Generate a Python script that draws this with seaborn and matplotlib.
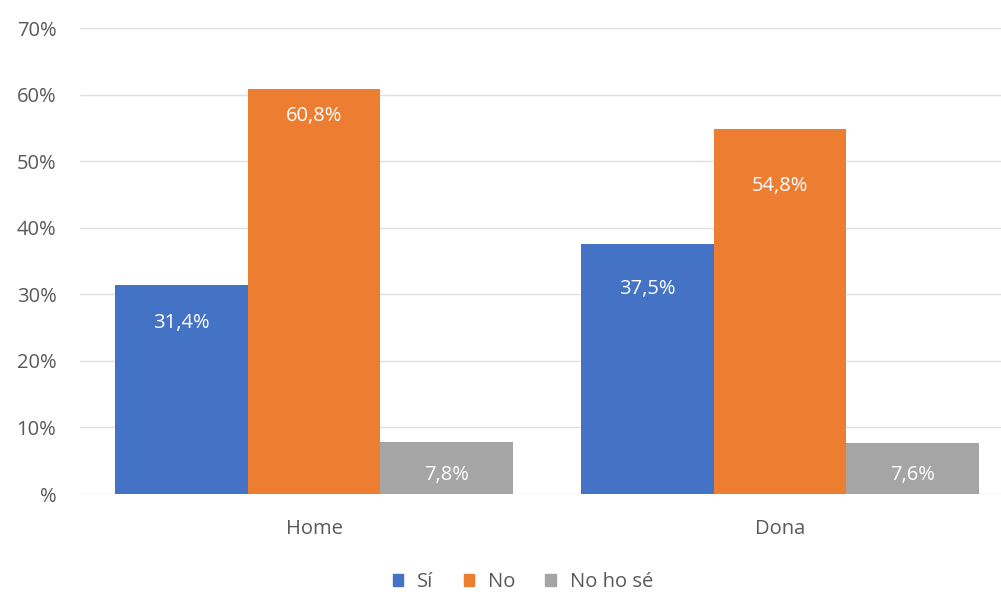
import matplotlib
matplotlib.use("Agg")
import matplotlib.pyplot as plt
import seaborn as sns
import pandas as pd

categories = ["Home", "Dona"]
responses = ["Sí", "No", "No ho sé"]
si_values = [31.4, 37.5]
no_values = [60.8, 54.8]
nose_values = [7.8, 7.6]
y_ticks = [0, 10, 20, 30, 40, 50, 60, 70]
y_tick_labels = ["%", "10%", "20%", "30%", "40%", "50%", "60%", "70%"]
colors = ["#4472C4", "#ED7D31", "#A5A5A5"]

sns.set_theme(style="white")
plt.rcParams["font.family"] = ["Open Sans", "DejaVu Sans"]

rows = []
for resp, vals in zip(responses, [si_values, no_values, nose_values]):
    for cat, v in zip(categories, vals):
        rows.append({"cat": cat, "resp": resp, "val": v})
df = pd.DataFrame(rows)

fig = plt.figure(figsize=(10.01, 5.96), dpi=100)
ax = fig.add_axes([80 / 1001, 1 - 494 / 596, 921 / 1001, (494 - 28) / 596])

sns.barplot(data=df, x="cat", y="val", hue="resp", order=categories,
            hue_order=responses, palette=colors, width=0.855, gap=0,
            saturation=1, ax=ax, legend=True, zorder=3, linewidth=0)

ax.set_ylim(0, 70)
ax.set_xlim(-0.502, 1.474)
ax.set_yticks(y_ticks)
ax.set_yticklabels(y_tick_labels)
ax.yaxis.grid(True, color="#E0E0E0", lw=1.0, zorder=0)
ax.set_axisbelow(True)
for s in ax.spines.values():
    s.set_visible(False)
ax.tick_params(axis="both", length=0, colors="#595959", labelsize=14.5)
ax.tick_params(axis="y", pad=17)
ax.tick_params(axis="x", pad=18)
ax.set_xlabel("")
ax.set_ylabel("")

# label offsets below bar tops, in pixels (layout only)
label_offsets = {"Sí": [38, 45], "No": [27, 57], "No ho sé": [33, 32]}
for container, resp in zip(ax.containers, responses):
    for i, bar in enumerate(container):
        h = bar.get_height()
        ax.annotate(f"{h:.1f}%".replace(".", ","),
                    (bar.get_x() + bar.get_width() / 2, h),
                    xytext=(0, -label_offsets[resp][i]), textcoords="offset pixels",
                    ha="center", va="center", color="white", fontsize=14.5, zorder=5)

ax.get_legend().remove()
handles = [plt.Rectangle((0, 0), 1, 1, color=c) for c in colors]
fig.legend(handles, responses, loc="center", bbox_to_anchor=(523 / 1001, 1 - 582 / 596),
           ncol=3, frameon=False, fontsize=14.5, handlelength=0.5, handleheight=0.5,
           handletextpad=0.7, columnspacing=1.5, labelcolor="#595959")

fig.savefig("out.png", dpi=100)
